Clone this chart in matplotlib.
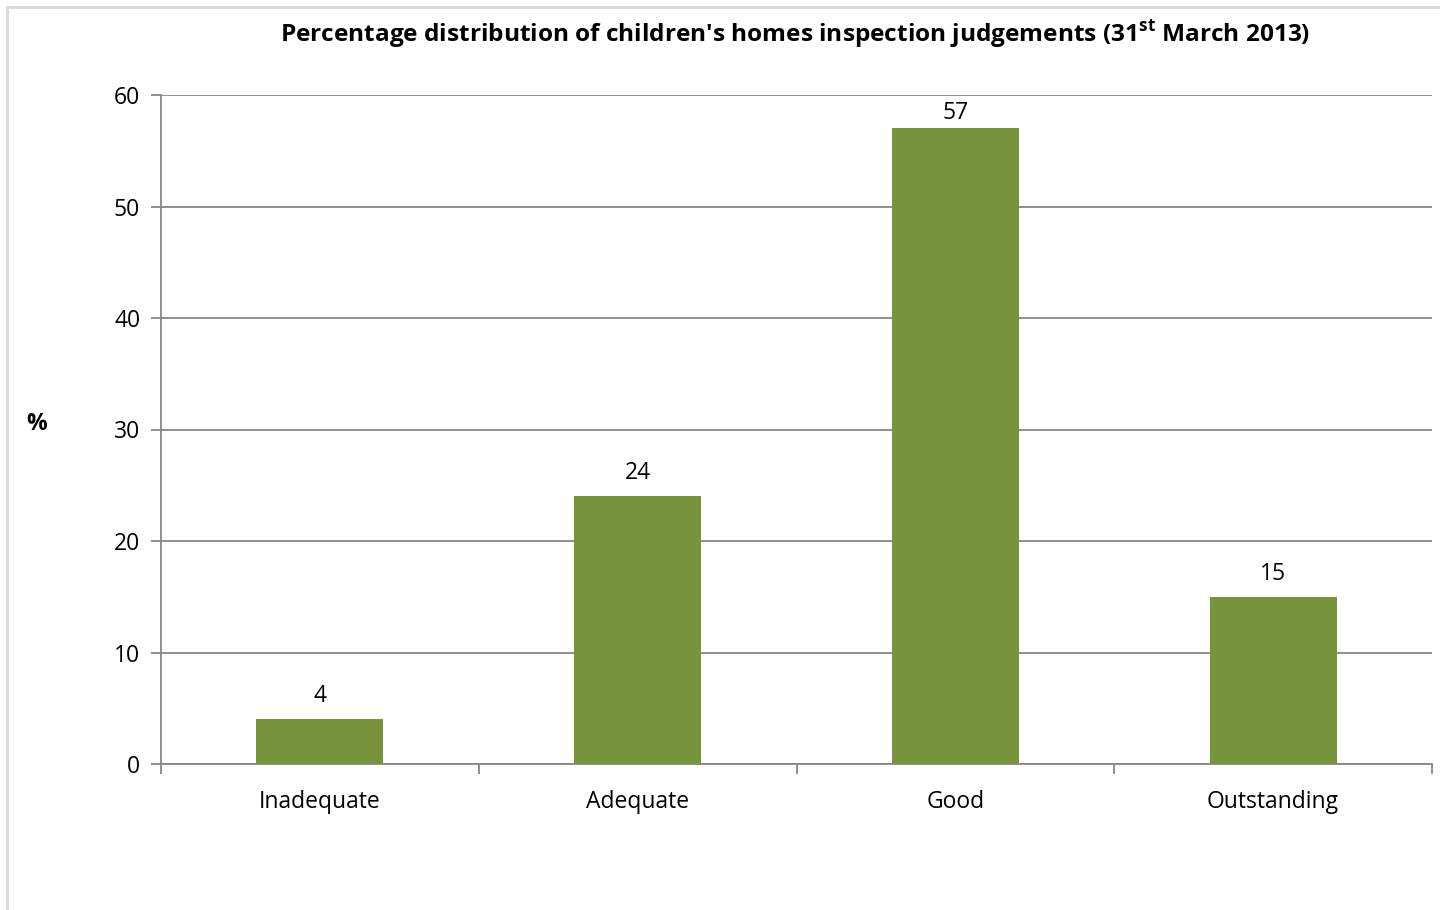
import matplotlib.pyplot as plt
import numpy as np
from matplotlib.patches import Rectangle

categories = ["Inadequate", "Adequate", "Good", "Outstanding"]
percentages = [4, 24, 57, 15]
y_ticks = [0, 10, 20, 30, 40, 50, 60]

plt.rcParams['font.family'] = ['Open Sans', 'DejaVu Sans']

W, H = 1440, 910
fig = plt.figure(figsize=(W / 100, H / 100), dpi=100)
ax = fig.add_axes([161 / W, 1 - 764 / H, (1432 - 161) / W, (764 - 95) / H])

x = np.arange(len(categories))
bars = ax.bar(x, percentages, width=0.4, color='#77933C', zorder=3)

ax.set_xlim(-0.5, len(categories) - 0.5)
ax.set_ylim(0, 60)
ax.set_yticks(y_ticks)
ax.yaxis.grid(True, color='#868686', linewidth=1.3, zorder=0)

# data labels above bars, kept inside the plot area like Excel does
labels = []
for xi, v in zip(x, percentages):
    labels.append(ax.annotate(str(v), (xi, v), xytext=(0, 8), textcoords='offset points',
                              ha='center', va='bottom', fontsize=16.5))
fig.canvas.draw()
ax_top = ax.get_window_extent().y1
for t in labels:
    bb = t.get_window_extent()
    if bb.y1 > ax_top - 6:
        shift_pts = (bb.y1 - (ax_top - 6)) * 72 / fig.dpi
        t.xyann = (0, 8 - shift_pts)

ax.set_xticks(np.arange(len(categories) + 1) - 0.5)
ax.set_xticklabels([])
ax.set_xticks(x, minor=True)
ax.set_xticklabels(categories, minor=True, fontsize=16.5)
ax.tick_params(axis='x', which='minor', length=0, pad=19)
ax.tick_params(axis='x', which='major', length=7, width=1.3, color='#868686')
ax.tick_params(axis='y', length=7, width=1.3, color='#868686', labelsize=16.5, pad=8)

for side in ['top', 'right']:
    ax.spines[side].set_visible(False)
for side in ['left', 'bottom']:
    ax.spines[side].set_color('#868686')
    ax.spines[side].set_linewidth(1.3)

ax.set_ylabel('%', rotation=0, fontsize=16.5, fontweight='bold', va='center', ha='center')
ax.yaxis.set_label_coords(-124 / (1432 - 161), (764 - 424) / (764 - 95))

fig.text(795 / W, 1 - 35 / H,
         "Percentage distribution of children's homes inspection judgements (31$^{\\mathregular{st}}$ March 2013)",
         ha='center', va='center', fontsize=17.6, fontweight='bold')

# light frame around the chart area
fig.patches.append(Rectangle((7 / W, -0.1), 1.2, 1 - 7 / H + 0.1, transform=fig.transFigure,
                             fill=False, edgecolor='#D9D9D9', linewidth=2))

plt.savefig('out.png', dpi=100)
plt.close()
